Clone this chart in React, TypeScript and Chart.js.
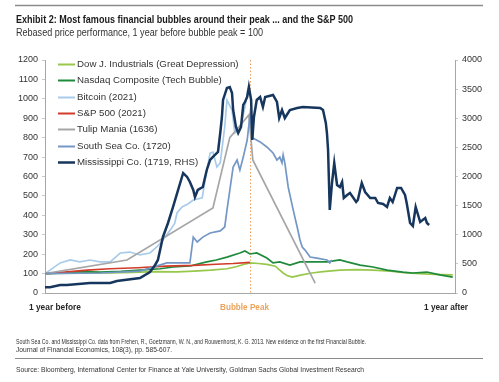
import React, { useEffect, useRef } from "react";
import { Chart, registerables } from "chart.js";

Chart.register(...registerables);

// ---- Data (x = days relative to bubble peak, y = rebased price, 1 year before = 100) ----
const seriesNames = [
  "Dow J. Industrials (Great Depression)",
  "Nasdaq Composite (Tech Bubble)",
  "Bitcoin (2021)",
  "S&P 500 (2021)",
  "Tulip Mania (1636)",
  "South Sea Co. (1720)",
  "Mississippi Co. (1719, RHS)",
];

const dowDays = [-365, -330, -290, -250, -210, -170, -130, -100, -70, -41, -25, -10, 0, 15, 30, 45, 52, 59, 66, 75, 90, 110, 130, 160, 190, 219, 250, 279, 310, 340, 361];
const dowValues = [100, 102, 104, 103, 106, 110, 109, 113, 118, 125, 135, 148, 155, 152, 147, 138, 120, 103, 90, 82, 92, 103, 110, 118, 120, 118, 112, 103, 98, 95, 93];

const nasdaqDays = [-365, -330, -300, -267, -230, -196, -160, -137, -107, -77, -60, -41, -18, -9, 0, 12, 30, 41, 53, 71, 89, 107, 137, 160, 173, 196, 219, 244, 272, 290, 315, 338, 361];
const nasdaqValues = [100, 104, 110, 108, 112, 118, 125, 134, 139, 160, 170, 185, 206, 216, 201, 206, 180, 155, 160, 144, 160, 160, 160, 170, 160, 144, 134, 118, 108, 103, 108, 93, 82];

const bitcoinDays = [-365, -356, -338, -320, -303, -285, -267, -249, -231, -214, -196, -178, -166, -155, -142, -134, -130, -121, -110, -101, -85, -80, -71, -66, -59, -53, -45, -41, -32, -27, -18, -9, -4, 0];
const bitcoinValues = [100, 118, 155, 170, 160, 170, 160, 160, 206, 211, 196, 206, 237, 273, 324, 360, 412, 443, 460, 479, 490, 582, 720, 726, 649, 670, 855, 994, 942, 824, 840, 958, 1045, 1030];

const spxDays = [-365, -330, -290, -250, -200, -150, -100, -60, -30, 0];
const spxValues = [100, 108, 118, 125, 130, 138, 142, 148, 152, 158];

const tulipDays = [-365, -219, -66, -36, -2, 5, 116];
const tulipValues = [100, 170, 438, 800, 917, 685, 51];

const southSeaDays = [-365, -267, -196, -148, -107, -101, -94, -84, -71, -53, -45, -41, -30, -23, -18, -12, -5, 0, 5, 18, 30, 41, 48, 53, 57, 59, 62, 68, 77, 84, 89, 93, 98, 107, 119, 137, 142, 146];
const southSeaValues = [100, 103, 113, 155, 155, 288, 263, 288, 309, 320, 340, 427, 649, 685, 633, 700, 788, 917, 798, 778, 752, 721, 685, 700, 670, 711, 670, 546, 427, 340, 273, 237, 221, 185, 180, 170, 155, 170];

const mississippiDays = [-365, -356, -338, -326, -285, -249, -237, -196, -178, -169, -164, -155, -146, -137, -128, -119, -112, -107, -101, -98, -93, -84, -77, -71, -66, -57, -53, -50, -48, -41, -36, -32, -30, -25, -21, -16, -12, -9, -5, -2, 2, 4, 7, 12, 18, 23, 27, 41, 48, 52, 57, 62, 71, 84, 94, 125, 130, 135, 137, 139, 142, 146, 150, 155, 160, 164, 167, 173, 178, 183, 189, 192, 196, 199, 205, 214, 223, 228, 237, 244, 249, 254, 262, 269, 276, 279, 285, 290, 295, 303, 312, 315, 319];
const mississippiValues = [100, 100, 137, 137, 172, 172, 206, 258, 361, 481, 567, 962, 1202, 1477, 1769, 2060, 1992, 1906, 1769, 1648, 1769, 1820, 2112, 2284, 2335, 2421, 2747, 3022, 3314, 3520, 3537, 3434, 3142, 2850, 2747, 2850, 3228, 3279, 3365, 3537, 3314, 2627, 3022, 3314, 3365, 3193, 3365, 3400, 3279, 3004, 3142, 3004, 3142, 3176, 3193, 3176, 3142, 2919, 2747, 2456, 1425, 1889, 2232, 1854, 1820, 1906, 1631, 1683, 1717, 1648, 1562, 1597, 1769, 1889, 1734, 1631, 1631, 1545, 1528, 1477, 1631, 1562, 1803, 1803, 1683, 1545, 1202, 1150, 1477, 1219, 1288, 1202, 1168];

const leftTicksMax = 1200;
const leftTickStep = 100;
const rightTicksMax = 4000;
const rightTickStep = 500;
const xMin = -365;
const xMax = 365;
const peakDay = 0;

const FONT = "'Liberation Sans', Arial, Helvetica, sans-serif";

const toPoints = (days: number[], values: number[]) =>
  days.map((d, i) => ({ x: d, y: values[i] }));

const peakLinePlugin = {
  id: "peakLine",
  beforeDatasetsDraw(chart: any) {
    const { ctx, chartArea, scales } = chart;
    const x = Math.round(scales.x.getPixelForValue(peakDay)) + 0.5;
    ctx.save();
    ctx.strokeStyle = "#f0a060";
    ctx.lineWidth = 1;
    ctx.setLineDash([1.5, 2]);
    ctx.beginPath();
    ctx.moveTo(x, chartArea.top);
    ctx.lineTo(x, chartArea.bottom);
    ctx.stroke();
    ctx.restore();
  },
};

const legendPlugin = {
  id: "customLegend",
  afterDraw(chart: any) {
    const { ctx, chartArea } = chart;
    const x0 = chartArea.left + 13;
    const lineLen = 17;
    const y0 = chartArea.top + 4;
    const rowH = 16.3;
    ctx.save();
    ctx.font = `9.7px ${FONT}`;
    ctx.textBaseline = "middle";
    ctx.textAlign = "left";
    chart.data.datasets.forEach((ds: any, i: number) => {
      const y = Math.round(y0 + i * rowH) + 0.5;
      ctx.strokeStyle = ds.borderColor;
      ctx.lineWidth = ds.borderWidth >= 2.5 ? 2.5 : 2;
      ctx.beginPath();
      ctx.moveTo(x0, y);
      ctx.lineTo(x0 + lineLen, y);
      ctx.stroke();
      ctx.fillStyle = "#333333";
      ctx.fillText(ds.label, x0 + lineLen + 2, y);
    });
    ctx.restore();
  },
};

function ChartCanvas() {
  const ref = useRef<HTMLCanvasElement | null>(null);
  useEffect(() => {
    if (!ref.current) return;
    const colors = ["#97c84a", "#1f8a3b", "#a8cbea", "#d23a2a", "#a6a6a6", "#7497c6", "#17365d"];
    const pts = [
      toPoints(dowDays, dowValues),
      toPoints(nasdaqDays, nasdaqValues),
      toPoints(bitcoinDays, bitcoinValues),
      toPoints(spxDays, spxValues),
      toPoints(tulipDays, tulipValues),
      toPoints(southSeaDays, southSeaValues),
      toPoints(mississippiDays, mississippiValues),
    ];
    const datasets = seriesNames.map((name, i) => ({
      label: name,
      data: pts[i],
      borderColor: colors[i],
      backgroundColor: colors[i],
      borderWidth: i === 6 ? 2.5 : 1.7,
      pointRadius: 0,
      tension: 0,
      fill: false,
      yAxisID: i === 6 ? "y1" : "y",
      order: 6 - i,
    }));
    const tickFont = { size: 9, family: FONT };
    const chart = new Chart(ref.current, {
      type: "line",
      data: { datasets },
      options: {
        animation: false,
        responsive: false,
        devicePixelRatio: 1,
        layout: { padding: { top: 20, left: 0, right: 0, bottom: 0 } },
        plugins: { legend: { display: false }, tooltip: { enabled: false } },
        scales: {
          x: {
            type: "linear",
            min: xMin,
            max: xMax,
            grid: { display: false, drawTicks: false },
            border: { display: true, color: "#a6a6a6", width: 1 },
            ticks: { display: false },
            afterFit: (s: any) => {
              s.height = 27;
            },
          },
          y: {
            position: "left",
            min: 0,
            max: leftTicksMax,
            ticks: {
              stepSize: leftTickStep,
              font: tickFont,
              color: "#333333",
              padding: 4,
              callback: (v: any) => String(v),
            },
            grid: { drawOnChartArea: false, drawTicks: true, tickLength: 3, color: "#c8c8c8" },
            border: { color: "#a6a6a6", width: 1 },
            afterFit: (s: any) => {
              s.width = 45;
            },
          },
          y1: {
            position: "right",
            min: 0,
            max: rightTicksMax,
            ticks: {
              stepSize: rightTickStep,
              font: tickFont,
              color: "#333333",
              padding: 4,
              callback: (v: any) => String(v),
            },
            grid: { drawOnChartArea: false, drawTicks: true, tickLength: 3, color: "#c8c8c8" },
            border: { color: "#a6a6a6", width: 1 },
            afterFit: (s: any) => {
              s.width = 44;
            },
          },
        },
      },
      plugins: [peakLinePlugin, legendPlugin],
    } as any);
    return () => chart.destroy();
  }, []);
  return (
    <canvas
      ref={ref}
      width={499}
      height={280}
      style={{ position: "absolute", left: 0, top: 40, width: 499, height: 280 }}
    />
  );
}

export default function App() {
  return (
    <div
      style={{
        position: "absolute",
        left: 0,
        top: 0,
        width: 499,
        height: 382,
        background: "#ffffff",
        overflow: "hidden",
      }}
    >
      <ChartCanvas />
      <svg
        width={499}
        height={382}
        style={{ position: "absolute", left: 0, top: 0, pointerEvents: "none" }}
        fontFamily={FONT}
      >
        <line x1={15} y1={5.5} x2={483} y2={5.5} stroke="#8c8c8c" strokeWidth={1.3} />
        <text x={16} y={23} fontSize={11} fontWeight="bold" fill="#1a1a1a" textLength={337} lengthAdjust="spacingAndGlyphs">
          Exhibit 2: Most famous financial bubbles around their peak ... and the S&amp;P 500
        </text>
        <text x={16} y={35.5} fontSize={10} fill="#333333" textLength={247} lengthAdjust="spacingAndGlyphs">
          Rebased price performance, 1 year before bubble peak = 100
        </text>
        <text x={29} y={310} fontSize={9.5} fontWeight="bold" fill="#262626" textLength={52} lengthAdjust="spacingAndGlyphs">
          1 year before
        </text>
        <text x={220} y={310} fontSize={9.5} fontWeight="bold" fill="#eba35c" textLength={49} lengthAdjust="spacingAndGlyphs">
          Bubble Peak
        </text>
        <text x={424} y={310} fontSize={9.5} fontWeight="bold" fill="#262626" textLength={44} lengthAdjust="spacingAndGlyphs">
          1 year after
        </text>
        <text x={16} y={343.5} fontSize={7.2} fill="#333333" textLength={350} lengthAdjust="spacingAndGlyphs">
          South Sea Co. and Mississippi Co. data from Frehen, R., Goetzmann, W. N., and Rouwenhorst, K. G. 2013. New evidence on the first Financial Bubble.
        </text>
        <text x={16} y={351.5} fontSize={7.2} fill="#333333" textLength={156} lengthAdjust="spacingAndGlyphs">
          Journal of Financial Economics, 108(3), pp. 585-607.
        </text>
        <line x1={15} y1={358.5} x2={483} y2={358.5} stroke="#8c8c8c" strokeWidth={1.1} />
        <text x={16} y={371.5} fontSize={7.2} fill="#333333" textLength={348} lengthAdjust="spacingAndGlyphs">
          Source: Bloomberg, International Center for Finance at Yale University, Goldman Sachs Global Investment Research
        </text>
      </svg>
    </div>
  );
}
